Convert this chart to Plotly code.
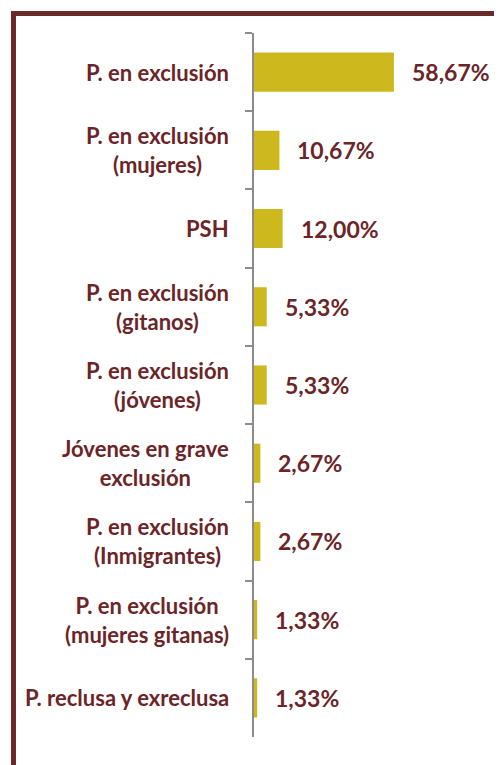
import plotly.graph_objects as go

categories = [
    "P. en exclusión",
    "P. en exclusión<br>(mujeres)",
    "PSH",
    "P. en exclusión<br>(gitanos)",
    "P. en exclusión<br>(jóvenes)",
    "Jóvenes en grave<br>exclusión",
    "P. en exclusión<br>(Inmigrantes)",
    "P. en exclusión<br>(mujeres gitanas)",
    "P. reclusa y exreclusa",
]
values = [58.67, 10.67, 12.00, 5.33, 5.33, 2.67, 2.67, 1.33, 1.33]
value_labels = [f"{v:.2f}".replace(".", ",") + "%" for v in values]

MAROON = "#6B2528"
GOLD = "#CDB81E"
AXIS = "#8C8C8C"
FONT = "Lato"

# page body has an 8px margin, so the figure is offset by 8px
OFF = 8
W, H = 502 - OFF, 765 - OFF
L, R, T, B = 254 - OFF, 0, 33 - OFF, 28
pw, ph = W - L - R, H - T - B

fig = go.Figure(
    go.Bar(
        y=categories,
        x=values,
        orientation="h",
        marker=dict(color=GOLD, line=dict(width=0)),
        width=0.5,
        hoverinfo="skip",
    )
)

annotations = []
for c, v, lab in zip(categories, values, value_labels):
    annotations.append(dict(
        x=0, y=c, xref="x", yref="y", text=c, showarrow=False,
        xanchor="right", yanchor="middle", align="center", xshift=-23,
        font=dict(family=FONT, size=22, color=MAROON, weight="bold"),
    ))
    annotations.append(dict(
        x=v, y=c, xref="x", yref="y", text=lab, showarrow=False,
        xanchor="left", yanchor="middle", xshift=16,
        font=dict(family=FONT, size=23, color=MAROON, weight="bold"),
    ))

fig.update_layout(
    width=W, height=H,
    margin=dict(l=L, r=R, t=T, b=B),
    paper_bgcolor="white", plot_bgcolor="white",
    showlegend=False,
    xaxis=dict(range=[0, 104], visible=False, fixedrange=True),
    yaxis=dict(
        autorange="reversed", type="category",
        showline=True, linecolor=AXIS, linewidth=2,
        ticks="outside", ticklen=7, tickcolor=AXIS, tickwidth=2,
        tickson="boundaries", showticklabels=False, showgrid=False,
        zeroline=False,
    ),
    annotations=annotations,
    shapes=[dict(
        type="rect", xref="paper", yref="paper",
        x0=(13.5 - OFF - L) / pw, x1=1.1,
        y0=-0.2, y1=(H - B - (13.5 - OFF)) / ph,
        line=dict(color="#6A2A2A", width=5), layer="above",
    )],
)

fig.write_html("out.html")
